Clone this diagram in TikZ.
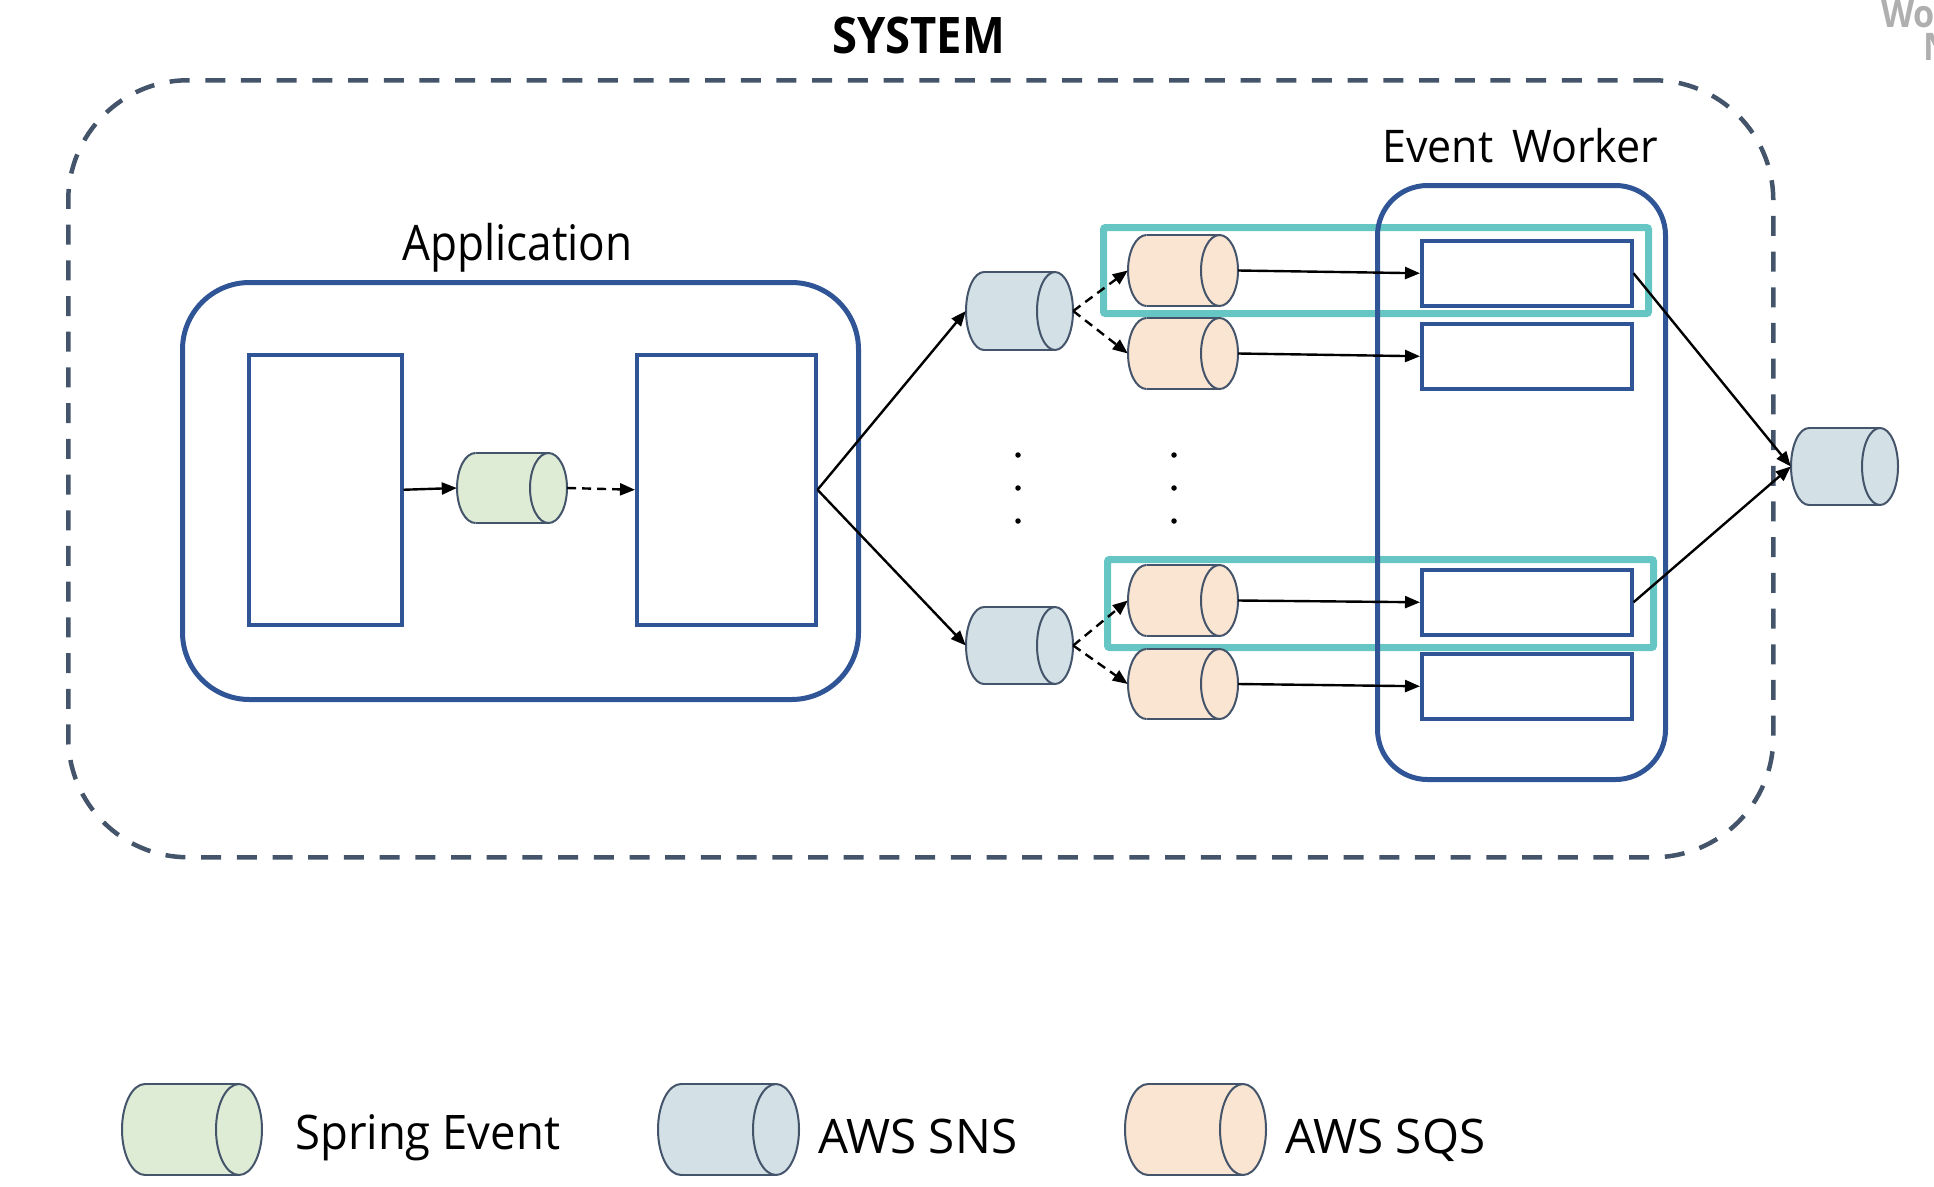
\documentclass[tikz,border=0pt]{standalone}
\usepackage{fontspec}
\setmainfont{Open Sans}[FakeStretch=0.9]
\newfontfamily\midfont{Open Sans}[FakeStretch=0.955]
\newfontfamily\widefont{Open Sans}
\usetikzlibrary{arrows.meta,fit}
\definecolor{boxblue}{HTML}{2F5597}
\definecolor{dashgray}{HTML}{44546A}
\definecolor{cylgray}{HTML}{44546A}
\definecolor{tealc}{HTML}{66C6C3}
\definecolor{springg}{HTML}{DEEBD5}
\definecolor{snsb}{HTML}{D3E0E5}
\definecolor{sqso}{HTML}{FAE5D2}
\definecolor{wmgray}{HTML}{AFAFAF}
\tikzset{
  sysframe/.style={draw=dashgray, line width=4.5pt, dash pattern=on 20pt off 15.7pt, rounded corners=120pt, inner sep=0, anchor=north west},
  bigbox/.style={draw=boxblue, line width=5pt, inner sep=0, anchor=north west},
  inbox/.style={draw=boxblue, line width=3.5pt, inner sep=0, anchor=north west},
  tealbox/.style={draw=tealc, line width=7pt, rounded corners=2pt, inner sep=0, anchor=north west},
  arr/.style={draw=black, line width=2.4pt, -{Triangle[length=15pt,width=12pt]}},
  darr/.style={arr, dash pattern=on 9pt off 6pt},
  cylline/.style={draw=cylgray, line width=2pt},
  dotnode/.style={circle, fill=black, inner sep=0, minimum size=5.5pt},
  lbl/.style={anchor=base west, inner sep=0},
}
% name, x1, x2, y1, y2, rx, fill
\newcommand\qcyl[7]{%
  \pgfmathsetmacro\cyA{#2+#6}%
  \pgfmathsetmacro\cyB{#3-#6}%
  \pgfmathsetmacro\cyR{(#5-#4)/2}%
  \pgfmathsetmacro\cyM{(#4+#5)/2}%
  \coordinate (#1-nw) at (#2,#4);
  \coordinate (#1-se) at (#3,#5);
  \node[fit=(#1-nw)(#1-se), inner sep=0] (#1) {};
  \fill[#7] (\cyA,#4) rectangle (\cyB,#5);
  \fill[#7] (\cyA,\cyM) ellipse[x radius=#6, y radius=\cyR];
  \fill[#7] (\cyB,\cyM) ellipse[x radius=#6, y radius=\cyR];
  \draw[cylline] (\cyA,#4) -- (\cyB,#4) (\cyA,#5) -- (\cyB,#5);
  \begin{scope}
    \clip (#2-5,#4-5) rectangle (\cyA,#5+5);
    \draw[cylline] (\cyA,\cyM) ellipse[x radius=#6, y radius=\cyR];
  \end{scope}
  \draw[cylline] (\cyB,\cyM) ellipse[x radius=#6, y radius=\cyR];
}
\begin{document}
\begin{tikzpicture}[x=1pt,y=-1pt]
\useasboundingbox (0,0) rectangle (1934,1186);
% watermark (cut by the page edge, as in the reference)
\begin{scope}
\clip (0,0) rectangle (1934,1186);
\node[lbl, text=wmgray, font={\fontsize{38}{40}\selectfont\bfseries}] (wm1) at (1881,27) {Wo};
\node[lbl, text=wmgray, font={\fontsize{38}{40}\selectfont\bfseries}] (wm2) at (1923,60) {N};
\end{scope}
% title and frame
\node[lbl, font={\fontsize{50.4}{52}\selectfont\bfseries}] (systitle) at (832,53) {SYSTEM};
\node[sysframe, minimum width=1705pt, minimum height=777pt] (frame) at (66,78) {};
% application
\node[lbl, font={\fontsize{49}{52}\selectfont}] (apptitle) at (402,260) {Application};
\node[bigbox, rounded corners=67pt, minimum width=676pt, minimum height=417pt] (app) at (180,280) {};
\node[inbox, minimum width=153pt, minimum height=270pt] (L) at (247,353) {};
\node[inbox, minimum width=179pt, minimum height=270pt] (R) at (635,353) {};
% teal highlight boxes
\node[tealbox, minimum width=545pt, minimum height=86pt] (t1) at (1100,224) {};
\node[tealbox, minimum width=546pt, minimum height=88pt] (t2) at (1104,556) {};
% event worker
\node[lbl, font={\fontsize{45}{48}\selectfont\midfont}] (ewtitle) at (1382,162) {Event\hspace{8pt} Worker};
\node[bigbox, rounded corners=50pt, minimum width=288pt, minimum height=594pt] (ew) at (1375,183) {};
\node[inbox, minimum width=210pt, minimum height=65pt] (W1) at (1420,239) {};
\node[inbox, minimum width=210pt, minimum height=65pt] (W2) at (1420,322) {};
\node[inbox, minimum width=210pt, minimum height=65pt] (W3) at (1420,568) {};
\node[inbox, minimum width=210pt, minimum height=65pt] (W4) at (1420,652) {};
% cylinders
\qcyl{spring}{457}{567}{453}{523}{18.5}{springg}
\qcyl{sns1}{966}{1073}{272}{350}{18}{snsb}
\qcyl{sns2}{966}{1073}{607}{684}{18}{snsb}
\qcyl{sqs1}{1128}{1238}{235}{306}{18.5}{sqso}
\qcyl{sqs2}{1128}{1238}{318}{389}{18.5}{sqso}
\qcyl{sqs3}{1128}{1238}{565}{636}{18.5}{sqso}
\qcyl{sqs4}{1128}{1238}{649}{719}{18.5}{sqso}
\qcyl{out}{1791}{1898}{428}{505}{18}{snsb}
% dots
\foreach \i/\yy in {1/455,2/488,3/521}{
  \node[dotnode] (da\i) at (1018,\yy) {};
  \node[dotnode] (db\i) at (1174,\yy) {};
}
% connectors
\draw[arr] (L.east) -- (spring.west);
\draw[darr] (spring.east) -- (R.west);
\draw[arr] (R.east) -- (sns1.west);
\draw[arr] (R.east) -- (sns2.west);
\draw[darr] (sns1.east) -- (sqs1.west);
\draw[darr] (sns1.east) -- (sqs2.west);
\draw[darr] (sns2.east) -- (sqs3.west);
\draw[darr] (sns2.east) -- (sqs4.west);
\draw[arr] (sqs1.east) -- (W1.west);
\draw[arr] (sqs2.east) -- (W2.west);
\draw[arr] (sqs3.east) -- (W3.west);
\draw[arr] (sqs4.east) -- (W4.west);
\draw[arr] (W1.east) -- (out.west);
\draw[arr] (W3.east) -- (out.west);
% legend
\qcyl{legspring}{122}{262}{1084}{1175}{23}{springg}
\qcyl{legsns}{658}{799}{1084}{1175}{23}{snsb}
\qcyl{legsqs}{1125}{1266}{1084}{1175}{23}{sqso}
\node[lbl, font={\fontsize{47.6}{50}\selectfont\midfont}] (lt1) at (295,1149) {Spring Event};
\node[lbl, font={\fontsize{47.6}{50}\selectfont\widefont}] (lt2) at (818,1153) {AWS SNS};
\node[lbl, font={\fontsize{47.6}{50}\selectfont\widefont}] (lt3) at (1285,1153) {AWS SQS};
\end{tikzpicture}
\end{document}
